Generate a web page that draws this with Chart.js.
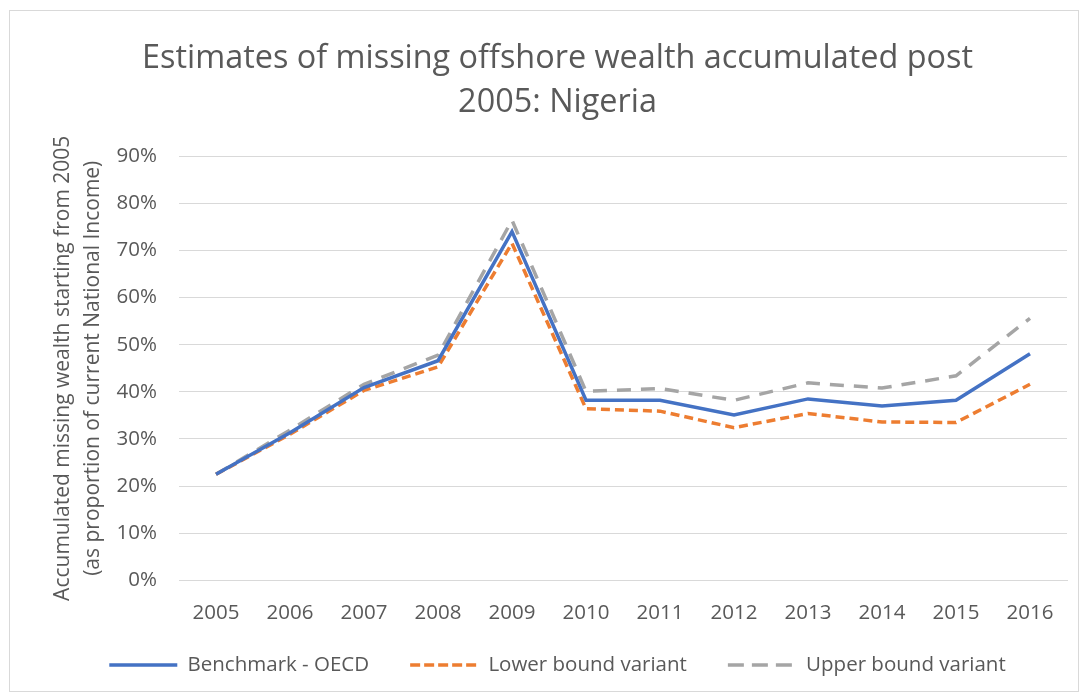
<!DOCTYPE html>
<html>
<head>
<meta charset="utf-8">
<script src="https://cdn.jsdelivr.net/npm/chart.js@4"></script>
<style>
  body { margin: 0; background: #fff; }
  #wrap { position: absolute; left: 9px; top: 10px; width: 1068px; height: 680px; border: 1px solid #d9d9d9; }
</style>
</head>
<body>
<div id="wrap"><canvas id="lineChart"></canvas></div>
<script>
    // Data
    const years = ['2005', '2006', '2007', '2008', '2009', '2010', '2011', '2012', '2013', '2014', '2015', '2016'];
    const benchmark = [22.5, 31.3, 40.9, 46.6, 74.0, 38.2, 38.2, 35.1, 38.5, 37.0, 38.2, 48.1];
    const lowerBound = [22.5, 31.0, 40.3, 45.3, 71.5, 36.4, 35.9, 32.4, 35.4, 33.6, 33.5, 41.6];
    const upperBound = [22.5, 31.9, 41.6, 47.8, 76.4, 40.1, 40.7, 38.2, 41.9, 40.8, 43.4, 55.6];
    const yTicks = [0, 10, 20, 30, 40, 50, 60, 70, 80, 90];

    const grey = '#595959';
    const font = 'Open Sans';
    const small = 20.5;

    // the legend keeps its wide label padding above the row too; pull the row up under the axis labels
    const legendRow = {
        id: 'legendRow',
        afterLayout(chart) {
            const lg = chart.legend;
            lg.top = 654 - 41 - small / 2;
            lg.height = 90;
            lg.bottom = lg.top + lg.height;
        }
    };

    const ctx = document.getElementById('lineChart').getContext('2d');
    const lineChart = new Chart(ctx, {
        type: 'line',
        data: {
            labels: years,
            datasets: [{
                label: 'Benchmark - OECD',
                data: benchmark,
                borderColor: '#4472C4',
                backgroundColor: '#4472C4',
                borderWidth: 3.5,
                pointRadius: 0,
                tension: 0
            }, {
                label: 'Lower bound variant',
                data: lowerBound,
                borderColor: '#ED7D31',
                backgroundColor: '#ED7D31',
                borderWidth: 3.5,
                borderDash: [9, 5],
                pointRadius: 0,
                tension: 0
            }, {
                label: 'Upper bound variant',
                data: upperBound,
                borderColor: '#A5A5A5',
                backgroundColor: '#A5A5A5',
                borderWidth: 3.5,
                borderDash: [14, 10],
                pointRadius: 0,
                tension: 0
            }]
        },
        options: {
            responsive: true,
            maintainAspectRatio: false,
            animation: false,
            layout: {
                padding: { left: 38, right: 11, top: 18, bottom: 0 }
            },
            scales: {
                y: {
                    min: 0,
                    max: 90,
                    afterBuildTicks: function(axis) {
                        axis.ticks = yTicks.map(v => ({ value: v }));
                    },
                    afterFit: function(axis) {
                        axis.width = 131;
                    },
                    ticks: {
                        color: grey,
                        font: { family: font, size: small },
                        padding: 22,
                        callback: v => v + '%'
                    },
                    grid: {
                        color: '#d9d9d9',
                        lineWidth: 1,
                        drawTicks: false
                    },
                    border: { display: false },
                    title: {
                        display: true,
                        text: ['Accumulated missing wealth starting from 2005', '(as proportion of current National Income)'],
                        color: grey,
                        font: { family: font, size: 21, lineHeight: 1.43 },
                        padding: { top: 0, bottom: 8 }
                    }
                },
                x: {
                    offset: true,
                    ticks: {
                        color: grey,
                        font: { family: font, size: small },
                        padding: 20,
                        maxRotation: 0
                    },
                    grid: {
                        display: false,
                        drawTicks: false
                    },
                    border: { color: '#d9d9d9', width: 1 }
                }
            },
            plugins: {
                title: {
                    display: true,
                    text: ['Estimates of missing offshore wealth accumulated post', '2005: Nigeria'],
                    color: grey,
                    font: { family: font, size: 32.4, weight: 'normal', lineHeight: 1.36 },
                    padding: { top: 8, bottom: 31 }
                },
                legend: {
                    position: 'bottom',
                    maxHeight: 46,
                    labels: {
                        color: grey,
                        font: { family: font, size: small },
                        boxWidth: 68,
                        boxHeight: 0,
                        padding: 41,
                        generateLabels: function(chart) {
                            return chart.data.datasets.map((ds, i) => ({
                                text: ds.label,
                                fillStyle: 'rgba(0,0,0,0)',
                                strokeStyle: ds.borderColor,
                                lineWidth: 3.5,
                                lineDash: ds.borderDash || [],
                                fontColor: grey,
                                datasetIndex: i
                            }));
                        }
                    }
                },
                tooltip: { enabled: false }
            }
        },
        plugins: [legendRow]
    });
</script>
</body>
</html>
